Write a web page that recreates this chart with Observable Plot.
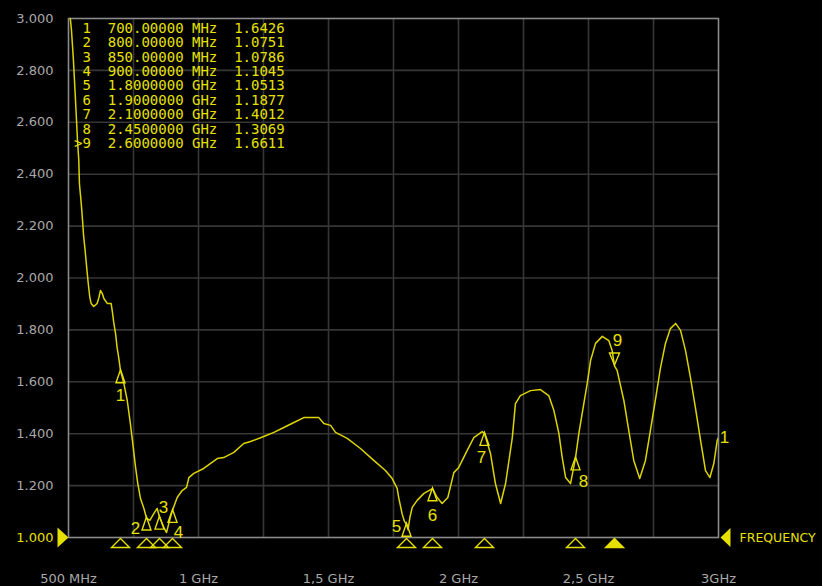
<!DOCTYPE html>
<html>
<head>
<meta charset="utf-8">
<script src="https://cdn.jsdelivr.net/npm/d3@7"></script>
<script src="https://cdn.jsdelivr.net/npm/@observablehq/plot@0.6"></script>
<style>
  html, body { margin: 0; padding: 0; background: #000; }
  #chart { width: 822px; height: 586px; overflow: hidden; }
  g[aria-label="y-axis tick label"] text { letter-spacing: 1px; }
  g[aria-label="ref label"] text { letter-spacing: 1px; }
</style>
</head>
<body>
<div id="chart"></div>
<script>
// ---- data ----
const freqMHz = [505, 511.5, 519, 527, 534.6, 539.6, 542, 549, 554, 558, 564, 570, 576, 582, 587, 597, 610, 617, 623, 630, 636, 649, 664, 668, 674, 681, 687, 693, 700, 713, 726, 738, 749, 758, 766.5, 777, 790, 800, 813, 828, 841, 850, 866.5, 877, 882, 892, 900, 918, 937, 954, 963, 982, 1020, 1072, 1097, 1136, 1174, 1200, 1251, 1290, 1328, 1367, 1405, 1463, 1482, 1508, 1527, 1572, 1623, 1674, 1719, 1745, 1764, 1770, 1783, 1792, 1800, 1806, 1813, 1822, 1841, 1867, 1900, 1918, 1937, 1959, 1982, 2001, 2033, 2059, 2091, 2100, 2123, 2142, 2162, 2181, 2207, 2219, 2238, 2277, 2315, 2347, 2367, 2386, 2399, 2412, 2431, 2450, 2463, 2482, 2495, 2508, 2527, 2553, 2578, 2591, 2600, 2610, 2636, 2655, 2674, 2697, 2719, 2738, 2757, 2777, 2796, 2815, 2835, 2854, 2873, 2892, 2911, 2931, 2950, 2967, 2982, 2995, 3000];
const swrValues = [3.02, 2.954, 2.838, 2.684, 2.530, 2.453, 2.364, 2.287, 2.222, 2.164, 2.106, 2.040, 1.979, 1.925, 1.902, 1.890, 1.902, 1.925, 1.952, 1.940, 1.921, 1.902, 1.902, 1.875, 1.829, 1.786, 1.732, 1.694, 1.643, 1.593, 1.528, 1.439, 1.347, 1.270, 1.208, 1.150, 1.112, 1.075, 1.066, 1.092, 1.112, 1.079, 1.039, 1.019, 1.039, 1.077, 1.105, 1.154, 1.181, 1.193, 1.231, 1.247, 1.266, 1.304, 1.308, 1.328, 1.362, 1.370, 1.389, 1.405, 1.424, 1.443, 1.462, 1.462, 1.439, 1.432, 1.405, 1.382, 1.343, 1.297, 1.258, 1.227, 1.189, 1.154, 1.092, 1.062, 1.051, 1.030, 1.077, 1.116, 1.143, 1.170, 1.188, 1.154, 1.131, 1.154, 1.250, 1.270, 1.335, 1.385, 1.408, 1.401, 1.324, 1.208, 1.131, 1.208, 1.385, 1.516, 1.547, 1.566, 1.570, 1.547, 1.489, 1.401, 1.308, 1.231, 1.208, 1.307, 1.401, 1.516, 1.593, 1.682, 1.748, 1.775, 1.759, 1.721, 1.661, 1.644, 1.528, 1.412, 1.297, 1.227, 1.297, 1.412, 1.528, 1.655, 1.748, 1.805, 1.825, 1.798, 1.721, 1.617, 1.501, 1.374, 1.258, 1.231, 1.285, 1.374, 1.385];

const markerIds = [1, 2, 3, 4, 5, 6, 7, 8, 9];
const markerFreqs = [700, 800, 850, 900, 1800, 1900, 2100, 2450, 2600];
const markerSwr = [1.6426, 1.0751, 1.0786, 1.1045, 1.0513, 1.1877, 1.4012, 1.3069, 1.6611];
const activeMarker = 9;

const xTicks = [500, 1000, 1500, 2000, 2500, 3000];
const xTickLabels = ["500 MHz", "1 GHz", "1,5 GHz", "2 GHz", "2,5 GHz", "3GHz"];
const yTicks = [1.0, 1.2, 1.4, 1.6, 1.8, 2.0, 2.2, 2.4, 2.6, 2.8, 3.0];
const xGrid = [750, 1000, 1250, 1500, 1750, 2000, 2250, 2500, 2750];
const yGrid = [1.2, 1.4, 1.6, 1.8, 2.0, 2.2, 2.4, 2.6, 2.8];

// ---- layout / style (not data) ----
const YEL = "#e6e000";
const TRACE = "#dcd400";
const GRID = "#363636";
const LABEL = "#a8a8a8";
// label offsets relative to marker tip, px [dx, dy]
const labelOffsets = {1:[0,25], 2:[-11,11], 3:[4,-10], 4:[6,22], 5:[-10,2], 6:[0,27], 7:[-3,24], 8:[8,24], 9:[3,-25]};

const trace = freqMHz.map((f, i) => ({f, v: swrValues[i]}));
const markers = markerIds.map((id, i) => ({id, f: markerFreqs[i], v: markerSwr[i], active: id === activeMarker}));

function fmtFreq(f) {
  return f < 1000 ? f.toFixed(5) + " MHz" : (f / 1000).toFixed(7) + " GHz";
}
const tableText = markers.map(m => (m.active ? ">" : " ") + m.id + "  " + fmtFreq(m.f) + "  " + m.v.toFixed(4)).join("\n");

// custom symbols
const sym = (fn) => ({draw(ctx) { fn(ctx); ctx.closePath(); }});
const markUp = sym(c => { c.moveTo(0, -1); c.lineTo(-4.5, 12); c.lineTo(4.5, 12); });
const markDown = sym(c => { c.moveTo(0, -1); c.lineTo(-5, -13); c.lineTo(5, -13); });
const baseTri = sym(c => { c.moveTo(0, 1); c.lineTo(-9, 10); c.lineTo(9, 10); });
const refArrow = sym(c => { c.moveTo(0, 0); c.lineTo(-11, -10); c.lineTo(-11, 10); });
const freqArrow = sym(c => { c.moveTo(2, 0); c.lineTo(12, -9.5); c.lineTo(12, 9.5); });

const xLabelMap = new Map(xTicks.map((t, i) => [t, xTickLabels[i]]));

const labelMarks = markers.map(m => Plot.text([m], {
  x: "f", y: "v", text: d => String(d.id),
  dx: labelOffsets[m.id][0], dy: labelOffsets[m.id][1],
  fill: YEL, fontSize: 17, fontFamily: "Liberation Sans", textAnchor: "middle", lineAnchor: "middle"
}));

const chart = Plot.plot({
  width: 822,
  height: 586,
  marginLeft: 68,
  marginRight: 104,
  marginTop: 18,
  marginBottom: 49,
  style: {background: "#000", color: LABEL, fontFamily: "DejaVu Sans", overflow: "visible"},
  x: {domain: [500, 3000], label: null},
  y: {domain: [1, 3], label: null},
  marks: [
    Plot.gridX(xGrid, {stroke: GRID, strokeOpacity: 1, strokeWidth: 1.6}),
    Plot.gridY(yGrid, {stroke: GRID, strokeOpacity: 1, strokeWidth: 1.6}),
    Plot.frame({stroke: "#8a8a8a", strokeWidth: 1.6}),
    Plot.axisX(xTicks, {tickSize: 0, tickPadding: 36, tickFormat: d => xLabelMap.get(d), fill: LABEL, fontSize: 13, fontFamily: "DejaVu Sans", label: null}),
    Plot.axisY(yTicks, {tickSize: 0, tickPadding: 15, tickFormat: d => d === 1 ? "" : d.toFixed(3), fill: LABEL, fontSize: 13, fontFamily: "DejaVu Sans", ariaLabel: "y-axis tick label", label: null}),
    Plot.line(trace, {x: "f", y: "v", stroke: TRACE, strokeWidth: 1.5, clip: true}),
    // reference level
    Plot.text([1], {y: d => d, frameAnchor: "left", dx: -15, text: () => "1.000", textAnchor: "end", fill: YEL, fontSize: 13, fontFamily: "DejaVu Sans", ariaLabel: "ref label"}),
    Plot.dot([1], {x: () => 500, y: d => d, symbol: refArrow, fill: YEL, stroke: "none"}),
    // frequency label
    Plot.dot([1], {x: () => 3000, y: d => d, symbol: freqArrow, fill: YEL, stroke: "none"}),
    Plot.text([1], {x: () => 3000, y: d => d, dx: 21, text: () => "FREQUENCY", textAnchor: "start", fill: YEL, fontSize: 12.5, fontFamily: "DejaVu Sans"}),
    // baseline marker triangles
    Plot.dot(markers, {x: "f", y: () => 1, symbol: baseTri, stroke: YEL, strokeWidth: 1.4, fill: d => d.active ? YEL : "none"}),
    // trace markers
    Plot.dot(markers.filter(m => !m.active), {x: "f", y: "v", symbol: markUp, stroke: YEL, strokeWidth: 1.4, fill: "none"}),
    Plot.dot(markers.filter(m => m.active), {x: "f", y: "v", symbol: markDown, stroke: YEL, strokeWidth: 1.4, fill: "none"}),
    ...labelMarks,
    // trace number at the end
    Plot.text([trace[trace.length - 1]], {x: "f", y: "v", dx: 6, text: () => "1", textAnchor: "middle", fill: YEL, fontSize: 17, fontFamily: "Liberation Sans"}),
    // marker table
    Plot.text([tableText], {frameAnchor: "top-left", text: d => d, dx: 5.5, dy: 4, lineAnchor: "top", lineHeight: 14.4 / 14, textAnchor: "start", fill: YEL, fontSize: 14, fontFamily: "DejaVu Sans Mono"})
  ]
});
document.getElementById("chart").appendChild(chart);
</script>
</body>
</html>
